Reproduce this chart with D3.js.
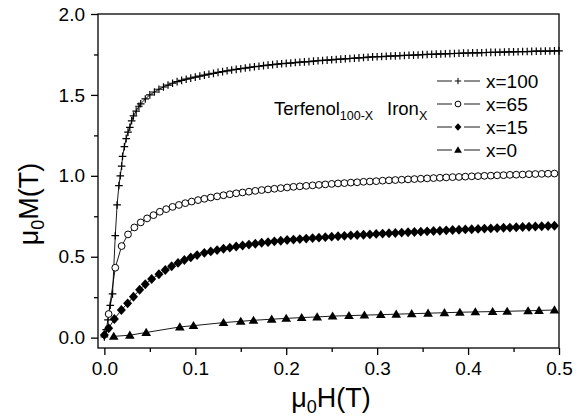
<!DOCTYPE html>
<html>
<head>
<meta charset="utf-8">
<script src="https://cdn.jsdelivr.net/npm/d3@7"></script>
<style>
  body { margin: 0; background: #fff; }
  text { font-family: Arial, "Liberation Sans", sans-serif; fill: #000; }
</style>
</head>
<body>
<svg id="chart" width="581" height="418"></svg>
<script>
/**
 *   Magnetisation curves, Terfenol(100-x) Iron(x)
 */

// [mu0H (T), mu0M (T)]
var x100 = [
  [0.000,0.005],[0.002,0.05],[0.004,0.11],[0.0065,0.20],[0.009,0.27],[0.012,0.63],[0.014,0.82],
  [0.016,0.94],[0.0175,1.00],[0.019,1.06],[0.020,1.12],[0.022,1.18],[0.024,1.23],[0.026,1.27],
  [0.028,1.30],[0.030,1.34],[0.032,1.37],[0.035,1.40],[0.038,1.43],
  [0.040,1.445],[0.045,1.475],[0.050,1.500],[0.055,1.518],[0.060,1.535],[0.065,1.549],[0.070,1.561],
  [0.075,1.572],[0.080,1.582],[0.085,1.590],[0.090,1.597],[0.095,1.604],[0.100,1.610],[0.105,1.616],
  [0.110,1.622],[0.115,1.628],[0.120,1.633],[0.125,1.639],[0.130,1.644],[0.135,1.649],[0.140,1.654],
  [0.145,1.658],[0.150,1.662],[0.155,1.666],[0.160,1.670],[0.165,1.674],[0.170,1.677],[0.175,1.681],
  [0.180,1.684],[0.185,1.687],[0.190,1.690],[0.195,1.693],[0.200,1.695],[0.205,1.697],[0.210,1.700],
  [0.215,1.702],[0.220,1.704],[0.225,1.706],[0.230,1.709],[0.235,1.711],[0.240,1.713],[0.245,1.715],
  [0.250,1.717],[0.255,1.719],[0.260,1.721],[0.265,1.723],[0.270,1.725],[0.275,1.727],[0.280,1.729],
  [0.285,1.731],[0.290,1.733],[0.295,1.735],[0.300,1.736],[0.305,1.737],[0.310,1.739],[0.315,1.740],
  [0.320,1.741],[0.325,1.742],[0.330,1.744],[0.335,1.745],[0.340,1.746],[0.345,1.747],[0.350,1.749],
  [0.355,1.750],[0.360,1.751],[0.365,1.752],[0.370,1.753],[0.375,1.754],[0.380,1.755],[0.385,1.756],
  [0.390,1.757],[0.395,1.758],[0.400,1.759],[0.405,1.760],[0.410,1.760],[0.415,1.761],[0.420,1.762],
  [0.425,1.763],[0.430,1.763],[0.435,1.764],[0.440,1.765],[0.445,1.766],[0.450,1.766],[0.455,1.767],
  [0.460,1.768],[0.465,1.768],[0.470,1.769],[0.475,1.770],[0.480,1.770],[0.485,1.771],[0.490,1.771],
  [0.495,1.772],[0.500,1.772]
];

var x65 = [
  [0.0047,0.146],[0.012,0.432],[0.019,0.566],[0.026,0.638],[0.033,0.681],[0.040,0.712],[0.047,0.737],
  [0.054,0.757],[0.061,0.778],[0.068,0.794],[0.075,0.808],[0.082,0.820],[0.089,0.831],[0.096,0.841],
  [0.103,0.850],[0.110,0.858],[0.117,0.866],[0.124,0.873],[0.131,0.880],[0.138,0.886],[0.145,0.892],
  [0.152,0.897],[0.159,0.902],[0.166,0.907],[0.173,0.912],[0.180,0.916],[0.187,0.920],[0.194,0.924],
  [0.201,0.928],[0.208,0.932],[0.215,0.935],[0.222,0.938],[0.229,0.941],[0.236,0.944],[0.243,0.947],
  [0.250,0.950],[0.257,0.953],[0.264,0.955],[0.271,0.958],[0.278,0.960],[0.285,0.963],[0.292,0.965],
  [0.299,0.967],[0.306,0.970],[0.313,0.972],[0.320,0.974],[0.327,0.976],[0.334,0.978],[0.341,0.980],
  [0.348,0.982],[0.355,0.984],[0.362,0.986],[0.369,0.988],[0.376,0.990],[0.383,0.992],[0.390,0.993],
  [0.397,0.995],[0.404,0.997],[0.411,0.998],[0.418,1.000],[0.425,1.001],[0.432,1.003],[0.439,1.004],
  [0.446,1.006],[0.453,1.007],[0.460,1.008],[0.467,1.010],[0.474,1.011],[0.481,1.012],[0.488,1.013],
  [0.495,1.014]
];

var x15 = [
  [0.000,0.017],[0.0047,0.058],[0.011,0.115],[0.0187,0.171],[0.0256,0.212],[0.032,0.253],[0.0388,0.296],
  [0.045,0.330],[0.052,0.362],[0.060,0.392],[0.067,0.418],[0.074,0.441],[0.081,0.462],[0.088,0.480],
  [0.095,0.496],[0.102,0.510],[0.110,0.524],[0.117,0.533],[0.124,0.541],[0.131,0.549],[0.138,0.556],
  [0.145,0.563],[0.152,0.569],[0.159,0.575],[0.166,0.580],[0.173,0.586],[0.180,0.590],[0.187,0.595],
  [0.194,0.599],[0.201,0.603],[0.208,0.606],[0.215,0.609],[0.222,0.612],[0.229,0.615],[0.236,0.618],
  [0.243,0.621],[0.250,0.624],[0.257,0.627],[0.264,0.629],[0.271,0.632],[0.278,0.634],[0.285,0.636],
  [0.292,0.638],[0.299,0.641],[0.306,0.643],[0.313,0.645],[0.320,0.647],[0.327,0.649],[0.334,0.651],
  [0.341,0.653],[0.348,0.655],[0.355,0.657],[0.362,0.659],[0.369,0.661],[0.376,0.663],[0.383,0.665],
  [0.390,0.667],[0.397,0.669],[0.404,0.670],[0.411,0.672],[0.418,0.674],[0.425,0.675],[0.432,0.677],
  [0.439,0.679],[0.446,0.680],[0.453,0.682],[0.460,0.684],[0.467,0.685],[0.474,0.687],[0.481,0.688],
  [0.488,0.690],[0.495,0.691]
];

var x0 = [
  [0.0103,0.008],[0.028,0.015],[0.046,0.032],[0.083,0.066],[0.098,0.074],[0.131,0.093],[0.150,0.101],
  [0.164,0.107],[0.184,0.114],[0.200,0.119],[0.217,0.124],[0.234,0.128],[0.251,0.133],[0.269,0.136],
  [0.286,0.139],[0.304,0.142],[0.321,0.145],[0.338,0.148],[0.356,0.151],[0.374,0.154],[0.391,0.157],
  [0.408,0.159],[0.427,0.161],[0.443,0.163],[0.466,0.166],[0.478,0.168],[0.495,0.171]
];

var seriesNames  = ["x=100", "x=65", "x=15", "x=0"];
var xTicks       = [0, 0.1, 0.2, 0.3, 0.4, 0.5];
var xMinorTicks  = [0.05, 0.15, 0.25, 0.35, 0.45];
var yTicks       = [0, 0.5, 1.0, 1.5, 2.0];
var yMinorTicks  = [0.25, 0.75, 1.25, 1.75];

var svg = d3.select("#chart");

var x = d3.scaleLinear().domain([-0.007, 0.5]).range([98, 559]);
var y = d3.scaleLinear().domain([-0.064, 2.0]).range([348, 14]);

var fmt = d3.format(".1f");

// marker shapes, big ones on the curves, small ones in the legend
var markers = {
  plus:     function(s) { return "M" + (-s) + ",0H" + s + "M0," + (-s) + "V" + s; },
  circle:   function(s) { return "M" + s + ",0A" + s + "," + s + " 0 1,1 " + (-s) + ",0A" + s + "," + s + " 0 1,1 " + s + ",0Z"; },
  diamond:  function(s) { return "M0," + (-s * 1.1) + "L" + s + ",0L0," + (s * 1.1) + "L" + (-s) + ",0Z"; },
  triangle: function(s) { return "M0," + (-s) + "L" + (s * 1.05) + "," + (s * 0.75) + "L" + (-s * 1.05) + "," + (s * 0.75) + "Z"; }
};

var series = [
  { name: seriesNames[0], data: x100, shape: "plus",     size: 3.8, legendSize: 3.2, fill: "none",  stroke: 1.2 },
  { name: seriesNames[1], data: x65,  shape: "circle",   size: 3.4, legendSize: 2.9, fill: "#fff",  stroke: 1 },
  { name: seriesNames[2], data: x15,  shape: "diamond",  size: 4.5, legendSize: 3.4, fill: "#000",  stroke: 0 },
  { name: seriesNames[3], data: x0,   shape: "triangle", size: 4.6, legendSize: 3.7, fill: "#000",  stroke: 0 }
];

// Axes
svg.append("g").attr("transform", "translate(0,348)")
    .call(d3.axisBottom(x).tickValues(xTicks).tickSize(7).tickPadding(7).tickFormat(fmt));
svg.append("g").attr("transform", "translate(0,348)")
    .call(d3.axisBottom(x).tickValues(xMinorTicks).tickSize(4).tickFormat(""));
svg.append("g").attr("transform", "translate(98,0)")
    .call(d3.axisLeft(y).tickValues(yTicks).tickSize(7).tickPadding(6).tickFormat(fmt));
svg.append("g").attr("transform", "translate(98,0)")
    .call(d3.axisLeft(y).tickValues(yMinorTicks).tickSize(4).tickFormat(""));

svg.selectAll(".domain").remove();
svg.selectAll(".tick line").attr("stroke", "#000").attr("stroke-width", 1.3);
svg.selectAll(".tick text").attr("font-size", 19).attr("font-family", "Arial, 'Liberation Sans', sans-serif").attr("fill", "#000");

// Frame
svg.append("rect")
   .attr("x", x.range()[0]).attr("y", y.range()[1])
   .attr("width", x.range()[1] - x.range()[0])
   .attr("height", y.range()[0] - y.range()[1])
   .attr("fill", "none").attr("stroke", "#000").attr("stroke-width", 1.3);

// Curves
var line = d3.line().x(function(d) { return x(d[0]); }).y(function(d) { return y(d[1]); });

series.forEach(function(s) {
    var g = svg.append("g").attr("class", "series");
    g.append("path")
     .attr("d", line(s.data))
     .attr("fill", "none").attr("stroke", "#000").attr("stroke-width", 0.9);
    g.selectAll(".mk")
     .data(s.data).enter()
     .append("path")
     .attr("class", "mk")
     .attr("transform", function(d) { return "translate(" + x(d[0]) + "," + y(d[1]) + ")"; })
     .attr("d", markers[s.shape](s.size))
     .attr("fill", s.fill)
     .attr("stroke", s.stroke ? "#000" : "none")
     .attr("stroke-width", s.stroke);
});

// Legend
var legend = svg.append("g").attr("class", "legend");
var leg = legend.selectAll("g")
    .data(series).enter()
    .append("g")
    .attr("transform", function(d, i) { return "translate(0," + (81 + i * 23) + ")"; });
leg.append("line").attr("x1", 437).attr("x2", 452).attr("y1", 0).attr("y2", 0).attr("stroke", "#000").attr("stroke-width", 0.9);
leg.append("line").attr("x1", 464).attr("x2", 480).attr("y1", 0).attr("y2", 0).attr("stroke", "#000").attr("stroke-width", 0.9);
leg.append("path")
   .attr("transform", "translate(458,0)")
   .attr("d", function(d) { return markers[d.shape](d.legendSize); })
   .attr("fill", function(d) { return d.fill; })
   .attr("stroke", function(d) { return d.stroke ? "#000" : "none"; })
   .attr("stroke-width", function(d) { return d.stroke ? 1 : 0; });
leg.append("text")
   .attr("x", 486).attr("y", 7)
   .attr("font-size", 19)
   .text(function(d) { return d.name; });

// Sample label
var lab = svg.append("text").attr("x", 274).attr("y", 115).attr("font-size", 18.5);
lab.append("tspan").text("Terfenol");
lab.append("tspan").attr("font-size", 12.5).attr("dy", 5).text("100-X");
lab.append("tspan").attr("x", 387).attr("dy", -5).text("Iron");
lab.append("tspan").attr("font-size", 12.5).attr("dy", 5).text("X");

// Axis titles
var xt = svg.append("text").attr("x", 331).attr("y", 407).attr("text-anchor", "middle").attr("font-size", 27);
xt.append("tspan").text("\u03bc");
xt.append("tspan").attr("font-size", 18).attr("dy", 6).text("0");
xt.append("tspan").attr("dy", -6).text("H(T)");

var yt = svg.append("text").attr("transform", "translate(38,204) rotate(-90)").attr("text-anchor", "middle").attr("font-size", 27);
yt.append("tspan").text("\u03bc");
yt.append("tspan").attr("font-size", 18).attr("dy", 6).text("0");
yt.append("tspan").attr("dy", -6).text("M(T)");
</script>
</body>
</html>
